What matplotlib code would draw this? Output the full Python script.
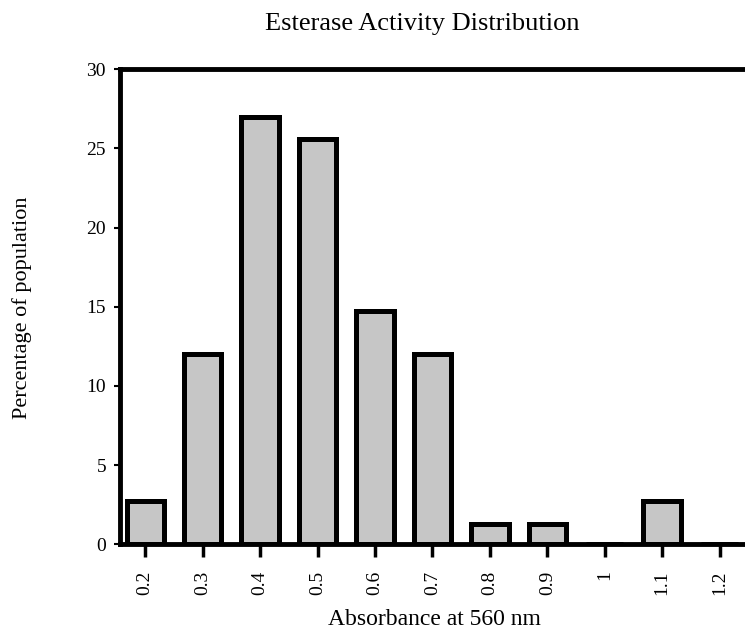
import matplotlib
matplotlib.use('Agg')
import matplotlib.pyplot as plt

# === Data ===
absorbance = [0.2, 0.3, 0.4, 0.5, 0.6, 0.7, 0.8, 0.9, 1.0, 1.1, 1.2]
percent = [2.7, 12.0, 27.0, 25.6, 14.7, 12.0, 1.3, 1.3, 0.0, 2.7, 0.0]
tick_labels = ['0.2', '0.3', '0.4', '0.5', '0.6', '0.7', '0.8', '0.9', '1', '1.1', '1.2']
y_ticks = [0, 5, 10, 15, 20, 25, 30]

plt.rcParams['font.family'] = ['Liberation Serif', 'DejaVu Serif']

fig = plt.figure(figsize=(7.45, 6.41), dpi=100)
ax = fig.add_axes([0.161, 0.151, 0.845, 0.741])

# bars with thick black outline, light grey fill
ax.bar(absorbance, percent, width=0.065, color='#c6c6c6',
       edgecolor='black', linewidth=3.6, zorder=3)

ax.set_xlim(0.156, 1.252)
ax.set_ylim(0, 30)

ax.set_xticks(absorbance)
ax.set_xticklabels(tick_labels, rotation=90, fontsize=14)
ax.set_yticks(y_ticks)
ax.set_yticklabels([str(v) for v in y_ticks], fontsize=14)

ax.tick_params(axis='x', direction='out', length=9, width=2.5, pad=10)
ax.tick_params(axis='y', direction='out', length=4, width=1.5, pad=6)

for side in ['left', 'bottom', 'top']:
    ax.spines[side].set_linewidth(3.5)
ax.spines['right'].set_visible(False)

fig.text(0.567, 0.963, 'Esterase Activity Distribution', ha='center', va='center', fontsize=19)
ax.set_xlabel('Absorbance at 560 nm', fontsize=17, labelpad=10)
fig.text(0.03, 0.52, 'Percentage of population', rotation=90, ha='center', va='center', fontsize=16)

plt.savefig('out.png', dpi=100)
